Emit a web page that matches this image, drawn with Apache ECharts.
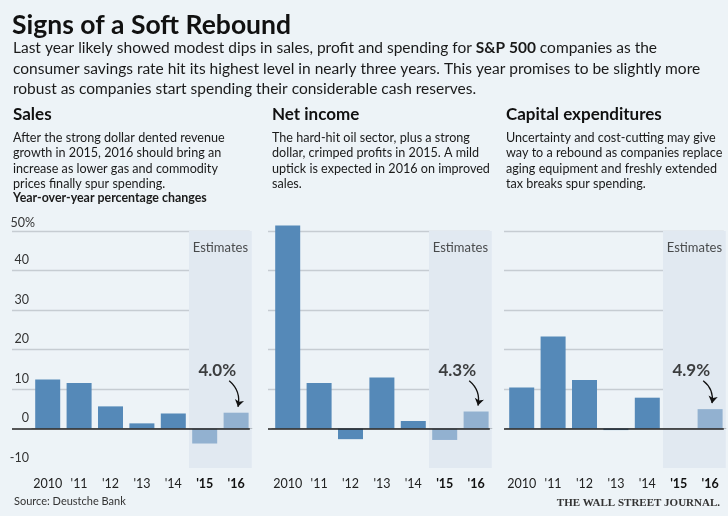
<!DOCTYPE html>
<html>
<head>
<meta charset="utf-8">
<script src="https://cdn.jsdelivr.net/npm/echarts@6/dist/echarts.min.js"></script>
<style>
  html, body { margin: 0; padding: 0; background: #edf3f7; }
  #chart { width: 728px; height: 516px; }
</style>
</head>
<body>
<div id="chart"></div>
<script>
// year-over-year percentage changes, S&P 500
const years = ['2010', "'11", "'12", "'13", "'14", "'15", "'16"];
const salesValues = [12.4, 11.5, 5.6, 1.3, 3.8, -3.8, 4.0];
const netIncomeValues = [51.4, 11.5, -2.7, 12.9, 1.9, -2.9, 4.3];
const capexValues = [10.4, 23.3, 12.3, -0.4, 7.8, 0, 4.9];
const yTicks = [-10, 0, 10, 20, 30, 40, 50];
const firstEstimate = 5;

const headings = ['Sales', 'Net income', 'Capital expenditures'];
const notes = [
  'After the strong dollar dented revenue\ngrowth in 2015, 2016 should bring an\nincrease as lower gas and commodity\nprices finally spur spending.',
  'The hard-hit oil sector, plus a strong\ndollar, crimped profits in 2015. A mild\nuptick is expected in 2016 on improved\nsales.',
  'Uncertainty and cost-cutting may give\nway to a rebound as companies replace\naging equipment and freshly extended\ntax breaks spur spending.'
];

const FONT = 'Lato';
const DARK = '#5589b8';
const LIGHT = '#92b1d0';
const SHADE = '#e1e9f1';
const GRIDLINE = '#c6ccd2';

// layout of the three panels (pixels)
const panels = [
  { values: salesValues, textLeft: 13, lineLeft: 12, barLeft: 32, labels: true },
  { values: netIncomeValues, textLeft: 272, lineLeft: 268, barLeft: 272, labels: false },
  { values: capexValues, textLeft: 506, lineLeft: 504, barLeft: 506, labels: false }
];
const plotTop = 231;
const plotHeight = 237;
const bandWidth = 31.4;

const grid = [], xAxis = [], yAxis = [], series = [], title = [];
const yMin = yTicks[0], yMax = yTicks[yTicks.length - 1], yStep = yTicks[1] - yTicks[0];

function text(str, left, top, style) {
  const t = { text: str, left: left, top: top, padding: 0, textStyle: style };
  title.push(t);
  return t;
}

text('Signs of a Soft Rebound', 12, 12,
  { fontFamily: FONT, fontWeight: 'bold', fontSize: 26.5, color: '#111' });
text('{n|Last year likely showed modest dips in sales, profit and spending for }{b|S&P 500}{n| companies as the}\n' +
     '{n|consumer savings rate hit its highest level in nearly three years. This year promises to be slightly more}\n' +
     '{n|robust as companies start spending their considerable cash reserves.}', 13, 38, {
  fontWeight: 'normal',
  rich: {
    n: { fontFamily: FONT, fontSize: 15.5, lineHeight: 20.5, color: '#1a1a1a', fontWeight: 'normal' },
    b: { fontFamily: FONT, fontSize: 15.5, lineHeight: 20.5, color: '#1a1a1a', fontWeight: 'bold' }
  }
});
text('Year-over-year percentage changes', 13, 192,
  { fontFamily: FONT, fontWeight: 'bold', fontSize: 12.4, color: '#1a1a1a' });
text('Source: Deustche Bank', 14, 496,
  { fontFamily: FONT, fontWeight: 'normal', fontSize: 11, color: '#333' });
const wsj = text('THE WALL STREET JOURNAL.', null, 498,
  { fontFamily: 'Liberation Serif', fontWeight: 'bold', fontSize: 11, color: '#333' });
delete wsj.left;
wsj.right = 8;

panels.forEach(function (p, i) {
  text(headings[i], p.textLeft, 106,
    { fontFamily: FONT, fontWeight: 'bold', fontSize: 17, color: '#111' });
  text(notes[i], p.textLeft, 130,
    { fontFamily: FONT, fontWeight: 'normal', fontSize: 12.6, lineHeight: 15.4, color: '#1a1a1a' });

  const plotRight = p.barLeft + years.length * bandWidth;
  const g = grid.length;

  // grid A: horizontal gridlines, zero line and y labels
  grid.push({ left: p.lineLeft, top: plotTop, width: plotRight - 2 - p.lineLeft, height: plotHeight });
  xAxis.push({ gridIndex: g, type: 'value', min: 0, max: 1, show: false });
  yAxis.push({
    gridIndex: g, type: 'value', min: yMin, max: yMax, interval: yStep,
    axisLine: { show: false }, axisTick: { show: false },
    axisLabel: {
      show: p.labels, inside: true, align: 'right', verticalAlign: 'bottom', margin: 23,
      fontFamily: FONT, fontSize: 12.5, color: '#333', padding: [0, 0, 2, 0],
      formatter: function (v) { return v === yMax ? v + '%' : '{n|' + v + '}'; },
      rich: { n: { fontFamily: FONT, fontSize: 12.5, color: '#333', padding: [0, 6, 2, 0] } }
    },
    splitLine: {
      lineStyle: {
        width: 1.3,
        color: yTicks.map(function (t) { return t === 0 || t === yMin ? 'rgba(0,0,0,0)' : GRIDLINE; })
      }
    }
  });
  yAxis.push({
    gridIndex: g, type: 'value', min: yMin, max: yMax, interval: yStep, z: 5,
    axisLine: { show: false }, axisTick: { show: false }, axisLabel: { show: false },
    splitLine: {
      lineStyle: {
        width: 1.6,
        color: yTicks.map(function (t) { return t === 0 ? '#222' : 'rgba(0,0,0,0)'; })
      }
    }
  });

  // grid B: the bars
  grid.push({ left: p.barLeft, top: plotTop, width: plotRight - p.barLeft, height: plotHeight });
  xAxis.push({
    gridIndex: g + 1, type: 'category', data: years,
    axisLine: { lineStyle: { color: '#b4bac0', width: 1.2 } },
    axisTick: { alignWithLabel: true, length: 6, lineStyle: { color: '#444', width: 1.2 } },
    axisLabel: {
      interval: 0, margin: 9, fontFamily: FONT, fontSize: 12.5, color: '#222',
      formatter: function (v, idx) { return idx >= firstEstimate ? '{b|' + v + '}' : v; },
      rich: { b: { fontFamily: FONT, fontSize: 12.5, fontWeight: 'bold', color: '#111' } }
    },
    splitArea: {
      show: true,
      areaStyle: { color: years.map(function (y, k) { return k >= firstEstimate ? SHADE : 'rgba(0,0,0,0)'; }) }
    }
  });
  const yB = yAxis.length;
  yAxis.push({ gridIndex: g + 1, type: 'value', min: yMin, max: yMax, show: false, splitLine: { show: false } });
  series.push({
    type: 'bar', xAxisIndex: g + 1, yAxisIndex: yB, barWidth: 25, silent: true, clip: false,
    data: p.values.map(function (v, k) {
      return { value: v, itemStyle: { color: k >= firstEstimate ? LIGHT : DARK } };
    })
  });

  // grid C: same box as B but with a numeric x scale, for the notes
  grid.push({ left: p.barLeft, top: plotTop, width: plotRight - p.barLeft, height: plotHeight });
  xAxis.push({ gridIndex: g + 2, type: 'value', min: -0.5, max: years.length - 0.5, show: false });
  const yC = yAxis.length;
  yAxis.push({ gridIndex: g + 2, type: 'value', min: yMin, max: yMax, show: false, splitLine: { show: false } });

  const last = p.values[p.values.length - 1];
  const mid = (firstEstimate + years.length - 1) / 2;
  series.push({
    type: 'scatter', xAxisIndex: g + 2, yAxisIndex: yC, symbolSize: 0, silent: true,
    data: [
      { value: [mid, 45.7], label: { formatter: 'Estimates', fontSize: 13, fontWeight: 'normal', color: '#222' } },
      { value: [5.4, 14.7], label: { formatter: last.toFixed(1) + '%', fontSize: 17, fontWeight: 'bold', color: '#111' } }
    ],
    label: { show: true, position: 'inside', fontFamily: FONT }
  });
  series.push({
    type: 'lines', coordinateSystem: 'cartesian2d', xAxisIndex: g + 2, yAxisIndex: yC, silent: true,
    symbol: ['none', 'arrow'], symbolSize: 7,
    lineStyle: { color: '#111', width: 1.3, curveness: 0.3, opacity: 1 },
    data: [{ coords: [[5.78, 12.1], [6.06, last + 1.5]] }]
  });
});

const chart = echarts.init(document.getElementById('chart'), null, { renderer: 'canvas' });
chart.setOption({
  backgroundColor: '#edf3f7',
  animation: false,
  title: title,
  grid: grid,
  xAxis: xAxis,
  yAxis: yAxis,
  series: series
});
</script>
</body>
</html>
